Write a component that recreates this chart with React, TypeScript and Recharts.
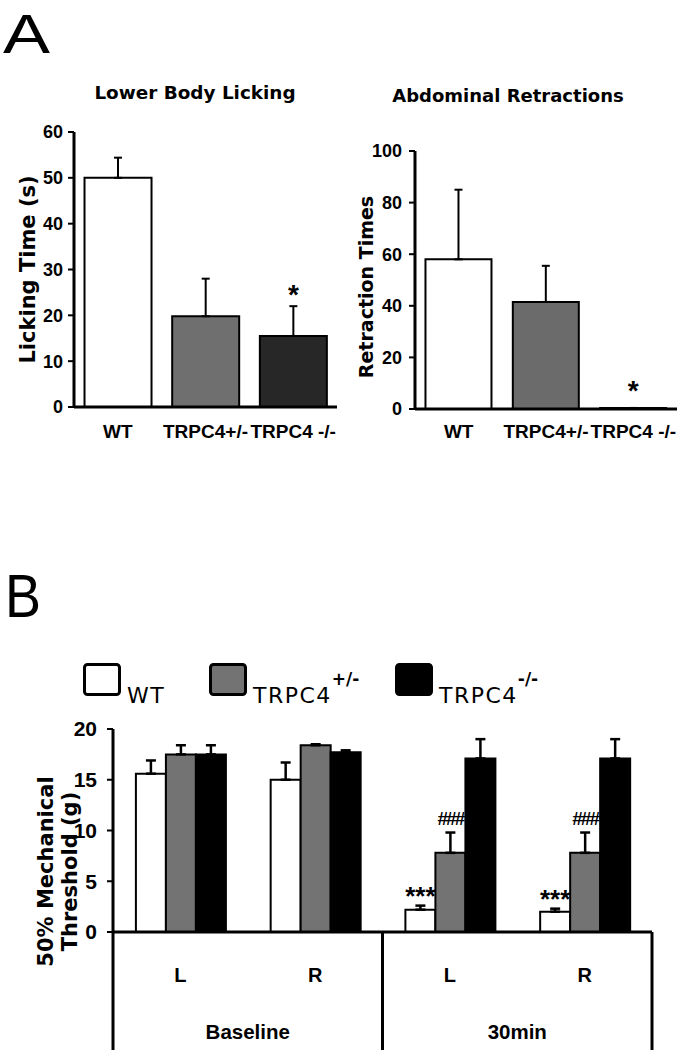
import React from 'react';
import { BarChart, Bar, Cell, XAxis, YAxis, ErrorBar, LabelList, Label } from 'recharts';

// panel A
const groups = ['WT', 'TRPC4+/-', 'TRPC4 -/-'];
const lickingMean = [50, 19.8, 15.5];
const lickingSem = [4.4, 8.2, 6.5];
const lickingMarks = ['', '', '*'];
const lickingTicks = [0, 10, 20, 30, 40, 50, 60];

const retractionMean = [58, 41.5, 0.4];
const retractionSem = [27, 14, 0];
const retractionMarks = ['', '', '*'];
const retractionTicks = [0, 20, 40, 60, 80, 100];

// panel B
const sides = ['L', 'R', 'L', 'R'];
const periods = ['Baseline', 'Baseline', '30min', '30min'];
const wtMean = [15.6, 15.0, 2.2, 2.0];
const wtSem = [1.3, 1.7, 0.4, 0.3];
const hetMean = [17.5, 18.4, 7.8, 7.8];
const hetSem = [0.9, 0.1, 2.0, 2.0];
const koMean = [17.5, 17.7, 17.1, 17.1];
const koSem = [0.9, 0.2, 1.9, 1.9];
const wtMarks = ['', '', '***', '***'];
const hetMarks = ['', '', '###', '###'];
const thresholdTicks = [0, 5, 10, 15, 20];

const seriesNames = ['WT', 'TRPC4', 'TRPC4'];
const seriesSups = ['', '+/-', '-/-'];

const lickingFills = ['#ffffff', '#6f6f6f', '#272727'];
const retractionFills = ['#ffffff', '#6b6b6b', '#272727'];
const seriesFills = ['#ffffff', '#737373', '#000000'];
const legendX = [83, 209, 395];

const WIDE = "'DejaVu Sans', sans-serif";
const ARIAL = "'Liberation Sans', Arial, sans-serif";

const lickingData = groups.map((g, i) => ({
  group: g,
  mean: lickingMean[i],
  err: [0, lickingSem[i]],
  mark: lickingMarks[i],
}));

const retractionData = groups.map((g, i) => ({
  group: g,
  mean: retractionMean[i],
  err: [0, retractionSem[i]],
  mark: retractionMarks[i],
}));

const thresholdData = sides.map((s, i) => ({
  side: s,
  period: periods[i],
  wt: wtMean[i],
  wtErr: [0, wtSem[i]],
  wtMark: wtMarks[i],
  het: hetMean[i],
  hetErr: [0, hetSem[i]],
  hetMark: hetMarks[i],
  ko: koMean[i],
  koErr: [0, koSem[i]],
}));

// puts the significance mark just above the error bar of a bar
const markLabel = (means: number[], sems: number[], lift: number, style: any) => (props: any) => {
  const box = props.viewBox ?? props;
  const i = props.index;
  const text = props.value;
  if (!text) return null;
  const h = Math.abs(box.height);
  const top = Math.min(box.y, box.y + box.height);
  const perUnit = means[i] ? h / means[i] : 0;
  const errTop = top - sems[i] * perUnit;
  return (
    <text x={box.x + box.width / 2} y={errTop - lift} textAnchor="middle" fill="#000" {...style}>
      {text}
    </text>
  );
};

const sideTitle = (lines: string[], capCenters: number[], shift: number, style: any) => (props: any) => {
  const { x, y, height } = props.viewBox;
  const cy = y + height / 2 + shift;
  return (
    <g>
      {lines.map((t, i) => {
        const cx = x + capCenters[i];
        return (
          <text key={i} x={cx} y={cy} dy="0.36em" transform={`rotate(-90 ${cx} ${cy})`}
            textAnchor="middle" fill="#000" {...style}>
            {t}
          </text>
        );
      })}
    </g>
  );
};

const PeriodTick = (props: any) => {
  const { x, y, payload, index, width, visibleTicksCount } = props;
  const half = payload.offset || width / visibleTicksCount / 2;
  const depth = 118;
  return (
    <g>
      <text x={x} y={y + 50} textAnchor="middle" fill="#000" fontFamily={ARIAL} fontWeight={700} fontSize={20}>
        {payload.value}
      </text>
      {index === 0 && <line x1={x - half} y1={y} x2={x - half} y2={y + depth} stroke="#000" strokeWidth={3} />}
      {index % 2 === 1 && (
        <g>
          <line x1={x + half} y1={y} x2={x + half} y2={y + depth} stroke="#000" strokeWidth={3} />
          <text x={x - half} y={y + 107} textAnchor="middle" fill="#000" fontFamily={ARIAL} fontWeight={700} fontSize={20.5}>
            {periods[index]}
          </text>
        </g>
      )}
    </g>
  );
};

const axisStroke = { stroke: '#000', strokeWidth: 3 };
const tickStroke = { stroke: '#000', strokeWidth: 2 };
const catTick = { fill: '#000', fontSize: 19, fontWeight: 700, fontFamily: ARIAL };
const numTick = { fill: '#000', fontSize: 18, fontWeight: 700, fontFamily: ARIAL };

const App: React.FC = () => {
  return (
    <div style={{ position: 'absolute', left: 0, top: 0, width: 679, height: 1050, background: '#fff', overflow: 'hidden' }}>
      <svg width={679} height={1050} style={{ position: 'absolute', left: 0, top: 0 }}>
        <text x={3} y={53} fontSize={56} fontFamily={ARIAL} fill="#000" textLength={47} lengthAdjust="spacingAndGlyphs">A</text>
        <text x={5} y={617} fontSize={62} fontFamily={ARIAL} fill="#000" textLength={36} lengthAdjust="spacingAndGlyphs">B</text>
        <text x={195} y={99} textAnchor="middle" fontFamily={WIDE} fontWeight={700} fontSize={18.4} fill="#000">
          Lower Body Licking
        </text>
        <text x={508} y={102} textAnchor="middle" fontFamily={WIDE} fontWeight={700} fontSize={18} fill="#000">
          Abdominal Retractions
        </text>
        {seriesNames.map((name, i) => (
          <g key={i}>
            <rect x={legendX[i] + 1.5} y={664.5} width={35} height={30} rx={3}
              fill={seriesFills[i]} stroke="#000" strokeWidth={3} />
            <text x={legendX[i] + 44} y={703} fontFamily={WIDE} fontSize={22} letterSpacing={1.5} fill="#000">
              {name}
              {seriesSups[i] && (
                <tspan dy={-18} fontSize={17} fontWeight={700} letterSpacing={0}>{seriesSups[i]}</tspan>
              )}
            </text>
          </g>
        ))}
      </svg>

      <div style={{ position: 'absolute', left: 0, top: 70 }}>
        <BarChart width={345} height={390} data={lickingData} margin={{ top: 62, right: 8, bottom: 0, left: 0 }}
          barCategoryGap="12%">
          <XAxis dataKey="group" height={53} interval={0} axisLine={axisStroke} tickLine={false}
            tickSize={0} tickMargin={18} tick={catTick} />
          <YAxis width={74} domain={[0, 60]} ticks={lickingTicks} axisLine={axisStroke}
            tickLine={tickStroke} tickSize={6} tickMargin={5} tick={numTick}>
            <Label content={sideTitle(['Licking Time (s)'], [27], 0, { fontFamily: WIDE, fontWeight: 700, fontSize: 21 })} />
          </YAxis>
          <Bar dataKey="mean" stroke="#000" strokeWidth={2} isAnimationActive={false}>
            {lickingData.map((d, i) => <Cell key={d.group} fill={lickingFills[i]} />)}
            <ErrorBar dataKey="err" direction="y" width={4} stroke="#000" strokeWidth={2} />
            <LabelList dataKey="mark" content={markLabel(lickingMean, lickingSem, 2, { fontFamily: ARIAL, fontWeight: 700, fontSize: 28 })} />
          </Bar>
        </BarChart>
      </div>

      <div style={{ position: 'absolute', left: 345, top: 70 }}>
        <BarChart width={334} height={390} data={retractionData} margin={{ top: 81, right: 2, bottom: 0, left: 0 }}
          barCategoryGap="12%">
          <XAxis dataKey="group" height={51} interval={0} axisLine={axisStroke} tickLine={false}
            tickSize={0} tickMargin={16} tick={catTick} />
          <YAxis width={70} domain={[0, 100]} ticks={retractionTicks} axisLine={axisStroke}
            tickLine={tickStroke} tickSize={6} tickMargin={7} tick={numTick}>
            <Label content={sideTitle(['Retraction Times'], [21], 7, { fontFamily: WIDE, fontWeight: 700, fontSize: 19 })} />
          </YAxis>
          <Bar dataKey="mean" stroke="#000" strokeWidth={2} isAnimationActive={false}>
            {retractionData.map((d, i) => <Cell key={d.group} fill={retractionFills[i]} />)}
            <ErrorBar dataKey="err" direction="y" width={4} stroke="#000" strokeWidth={2} />
            <LabelList dataKey="mark" content={markLabel(retractionMean, retractionSem, 8, { fontFamily: ARIAL, fontWeight: 700, fontSize: 28 })} />
          </Bar>
        </BarChart>
      </div>

      <div style={{ position: 'absolute', left: 0, top: 640 }}>
        <BarChart width={679} height={410} data={thresholdData} margin={{ top: 89, right: 27, bottom: 0, left: 0 }}
          barCategoryGap="17%" barGap={0}>
          <XAxis dataKey="side" height={118} interval={0} axisLine={axisStroke} tickLine={false}
            tickSize={0} tickMargin={0} tick={(p: any) => <PeriodTick {...p} />} />
          <YAxis width={113} domain={[0, 20]} ticks={thresholdTicks} axisLine={axisStroke}
            tickLine={tickStroke} tickSize={6} tickMargin={10} tick={{ ...numTick, fontSize: 21 }}>
            <Label content={sideTitle(['50% Mechanical', 'Threshold (g)'], [45.5, 69.5], 41,
              { fontFamily: WIDE, fontWeight: 700, fontSize: 21 })} />
          </YAxis>
          <Bar dataKey="wt" fill={seriesFills[0]} stroke="#000" strokeWidth={2} isAnimationActive={false}>
            <ErrorBar dataKey="wtErr" direction="y" width={5} stroke="#000" strokeWidth={2.5} />
            <LabelList dataKey="wtMark" content={markLabel(wtMean, wtSem, 1, { fontFamily: ARIAL, fontWeight: 700, fontSize: 26 })} />
          </Bar>
          <Bar dataKey="het" fill={seriesFills[1]} stroke="#000" strokeWidth={2} isAnimationActive={false}>
            <ErrorBar dataKey="hetErr" direction="y" width={5} stroke="#000" strokeWidth={2.5} />
            <LabelList dataKey="hetMark" content={markLabel(hetMean, hetSem, 8, { fontFamily: ARIAL, fontWeight: 700, fontSize: 19, letterSpacing: -2 })} />
          </Bar>
          <Bar dataKey="ko" fill={seriesFills[2]} stroke="#000" strokeWidth={2} isAnimationActive={false}>
            <ErrorBar dataKey="koErr" direction="y" width={5} stroke="#000" strokeWidth={2.5} />
          </Bar>
        </BarChart>
      </div>
    </div>
  );
};

export default App;
